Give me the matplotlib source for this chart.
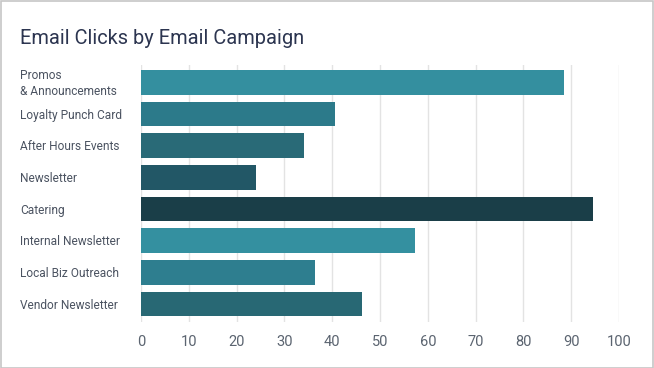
import matplotlib
matplotlib.use("Agg")
import matplotlib.pyplot as plt
from matplotlib.patches import Rectangle
import matplotlib.transforms as mtransforms

categories = ["Promos\n& Announcements", "Loyalty Punch Card", "After Hours Events",
              "Newsletter", "Catering", "Internal Newsletter", "Local Biz Outreach",
              "Vendor Newsletter"]
values = [88.5, 40.5, 34.0, 24.0, 94.6, 57.4, 36.3, 46.2]
colors = ["#348F9F", "#2C7A8A", "#296A77", "#225766", "#1A3E48", "#3490A0", "#2E7E8F", "#286874"]
xticks = [0, 10, 20, 30, 40, 50, 60, 70, 80, 90, 100]
title = "Email Clicks by Email Campaign"

plt.rcParams['font.family'] = ['Roboto', 'DejaVu Sans']

W, H = 654, 368
fig = plt.figure(figsize=(W / 100, H / 100), dpi=100)
fig.patch.set_facecolor("white")
fig.patches.append(Rectangle((0.5 / W, 0.5 / H), 1 - 1.5 / W, 1 - 1.5 / H, transform=fig.transFigure,
                             fill=False, edgecolor="#c6c6c6", linewidth=1.2))

left, right = 141 / W, 619 / W
top, bottom = 1 - 65 / H, 1 - 322 / H
ax = fig.add_axes([left, bottom, right - left, top - bottom])

ypos = list(range(len(categories)))
ax.barh(ypos, values, height=0.78, color=colors, zorder=3)
ax.set_xlim(0, 100)
ax.set_ylim(7.57, -0.55)
ax.set_xticks(xticks)
ax.set_xticklabels([str(t) for t in xticks], fontsize=10.5, color="#5b6470")
ax.tick_params(axis="x", length=0, pad=9.5)
ax.set_yticks([])
ax.grid(axis="x", color="#e3e3e3", linewidth=1, zorder=0)
for s in ax.spines.values():
    s.set_visible(False)

trans = mtransforms.blended_transform_factory(fig.transFigure, ax.transData)
for y, lab in zip(ypos, categories):
    ax.text(20 / W, y + 0.04, lab, transform=trans, ha="left", va="center", fontsize=8.6,
            color="#4b5361", linespacing=1.25)

fig.text(20 / W, 1 - 38.5 / H, title, ha="left", va="center", fontsize=14.4, color="#2c3550")

fig.savefig("out.png", dpi=100)
